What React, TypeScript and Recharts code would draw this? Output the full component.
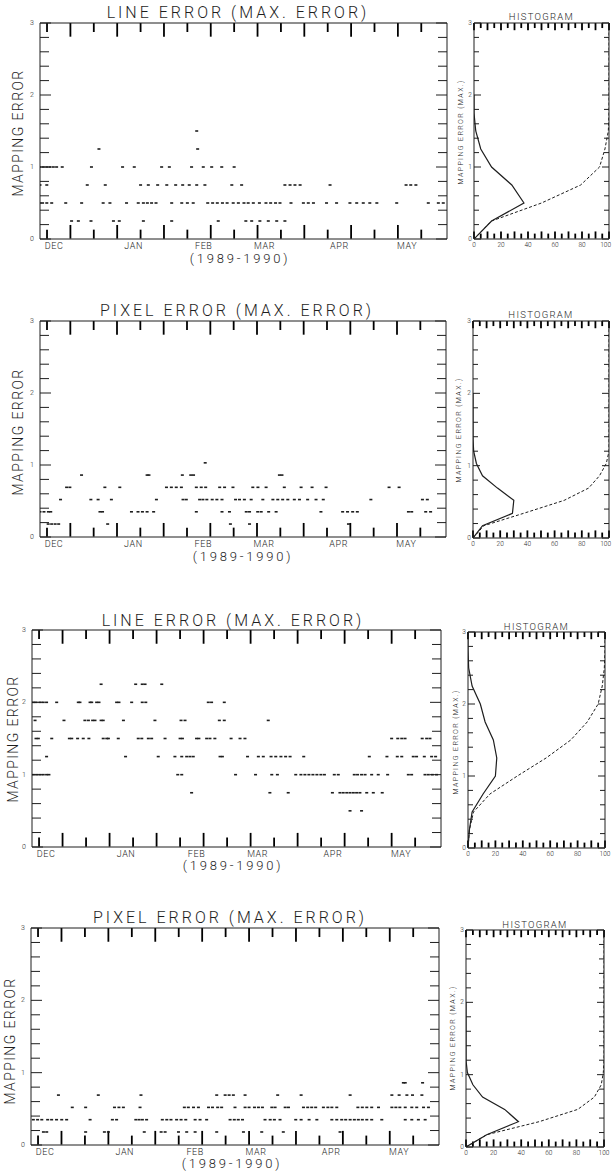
import React from 'react';
import { ScatterChart, Scatter, XAxis, YAxis, ReferenceLine } from 'recharts';

const FONT = 'Roboto, "DejaVu Sans", sans-serif';
const INK = '#1e1e1e';
const PAD = 20;

// x axis: days counted from the start of December 1989
const months = ['DEC', 'JAN', 'FEB', 'MAR', 'APR', 'MAY'];
const monthDays = [6, 40, 70, 96, 128, 157];
const dayTicks = [3, 13, 23, 33, 43, 53, 63, 73, 83, 93, 103, 113, 123, 133, 143, 153, 163];
const errTicks = [0, 0.2, 0.4, 0.6, 0.8, 1, 1.2, 1.4, 1.6, 1.8, 2, 2.2, 2.4, 2.6, 2.8, 3];
const pctTicks = [0, 5, 10, 15, 20, 25, 30, 35, 40, 45, 50, 55, 60, 65, 70, 75, 80, 85, 90, 95, 100];
const pctLabels = [0, 20, 40, 60, 80, 100];

// panel 1: line error, mapping error levels and the days they occur
const p1Levels = [0.25, 0.5, 0.75, 1.0, 1.25, 1.5];
const p1Days = [
  [13.5, 16.4, 21.8, 31.4, 33.9, 44.2, 56.3, 76.2, 88, 90.5, 94, 97.6, 101.2, 104.7],
  [0, 1.1, 2.9, 5, 11, 17.8, 27, 29.9, 37, 42, 44.2, 45.9, 47.7, 49.6, 56.3, 60.6, 63, 65.5, 71.7, 73.8, 75.8, 78, 80, 82.6, 84.8, 87.2, 89, 91.2, 93.8, 96.6, 98.6, 100.7, 102.6, 107.3, 112.6, 114.7, 116.9, 122.5, 126.8, 132.5, 135.4, 138.2, 141, 144, 152.5, 166, 170.3, 172.4],
  [0, 2.9, 20.2, 27.9, 43, 46.3, 50.3, 54.2, 58, 61, 63.8, 67, 70.5, 82, 86.2, 104.7, 106.9, 109, 111.2, 124, 156.5, 158.5, 160.7],
  [0, 1.4, 2.9, 4.3, 5.7, 7.1, 9.5, 22, 35.3, 40.3, 52, 55.3, 64.8, 69.8, 73.4, 77.7, 83],
  [25.2, 67.4],
  [67],
];

// panel 2: pixel error
const p2Levels = [0.18, 0.35, 0.52, 0.69, 0.86, 1.03];
const p2Days = [
  [3.5, 5, 6.5, 8, 29, 81.6, 89.8, 132.2],
  [0, 1.7, 3.6, 4.6, 25.7, 26.8, 39.2, 42, 43.9, 45.9, 48.7, 67, 78, 81.2, 88.4, 89.8, 93.3, 94.8, 98, 101.2, 120.4, 129.7, 131.8, 134, 136, 157.9, 159.3, 165.3, 167.4],
  [8.8, 21.8, 24.9, 30.6, 49.9, 61.3, 62.7, 68.4, 69.8, 71.5, 73.8, 75.8, 78, 83.8, 85.5, 87.6, 90.5, 95.5, 99.8, 101.9, 104, 106.2, 109, 111.2, 114.7, 118.3, 121.4, 141.8, 163.9, 166],
  [11.4, 12.8, 27.8, 34.2, 54.2, 56.3, 58.4, 60.6, 67, 69.1, 71, 77, 79.1, 82.7, 91.2, 93.4, 96.9, 104.7, 111.9, 116.6, 122.6, 149.6, 153.9],
  [17.8, 45.9, 46.7, 61, 64.6, 65.8, 102.6, 103.7],
  [70.8],
];

// panel 3: line error
const p3Levels = [0.5, 0.75, 1.0, 1.25, 1.5, 1.75, 2.0, 2.25];
const p3Days = [
  [135.3, 140.2],
  [67.9, 101.2, 109, 127.8, 131, 132.4, 133.9, 135.3, 136.7, 138.1, 139.5, 142.4, 145.2, 149],
  [0.6, 2, 3.4, 4.8, 6.2, 7.2, 62, 63.7, 86.6, 95.1, 102, 104.4, 112.2, 114.4, 116.1, 117.8, 119.5, 121.2, 122.9, 124.4, 128.6, 130.3, 137.1, 138.5, 140.2, 141.7, 144.5, 147.3, 151.3, 160.1, 161.5, 167.2, 168.6, 170.3, 172.1],
  [6.2, 39.8, 53.7, 60.8, 63.7, 65.8, 67.2, 68.6, 80, 81, 91.7, 96.3, 98.4, 101.7, 103.7, 105.9, 107.9, 109.8, 115.6, 143.5, 151, 155.4, 157.3, 162.2, 163.6, 166.9, 170, 171.7],
  [1.7, 2.7, 8.4, 15.9, 16.9, 19.4, 21.8, 24.2, 30.3, 31.8, 32.5, 36.7, 45.2, 46.7, 49.5, 50.9, 56.6, 63, 64, 70, 71, 74.3, 75.7, 77.8, 84.7, 88.5, 90.6, 153, 155.6, 157.3, 158.7, 166, 167.9, 169.3],
  [1.3, 13.6, 22.5, 24, 25.8, 26.8, 29.4, 30.3, 38.9, 52.3, 63.4, 65.1, 79.7, 81.8, 100.5],
  [0.6, 1.7, 3.4, 4.8, 6.2, 10.5, 19.7, 20.4, 24.7, 25.4, 27.5, 28.5, 36, 37, 42.4, 46.9, 48.4, 75, 76.4, 81.8],
  [29.4, 44.1, 46.9, 48.1, 55.2],
];

// panel 4: pixel error
const p4Levels = [0.18, 0.35, 0.52, 0.69, 0.86];
const p4Days = [
  [5.3, 6.7, 23.3, 31.3, 33, 48.3, 55.5, 57.2, 62.9, 66.4, 70, 79.2, 90.6, 98.4, 107.6, 131.8],
  [1, 2.8, 4.6, 7.1, 8.8, 10.9, 13.1, 15.2, 25.2, 34.7, 36.5, 44.7, 46.1, 47.5, 49.3, 56, 57.9, 59.7, 62.1, 64, 66, 70, 72.1, 74.9, 84.9, 86.7, 88.4, 90.2, 99.8, 102, 103.8, 106.2, 112.9, 115.2, 118.6, 121.9, 128.3, 130.4, 132.5, 134.2, 136.1, 137.9, 139.6, 141.3, 143.2, 145.3, 149.6, 159.6, 162.4, 165.2, 168.1],
  [17.6, 23.3, 35.6, 37.5, 39.4, 46.5, 65.4, 67.1, 69.3, 71.4, 75.7, 77.4, 79.6, 81.3, 87, 91.3, 93, 95.3, 97, 98.7, 102.7, 104.1, 108.4, 109.8, 116.2, 118, 119.7, 121.4, 124.7, 126.6, 128.3, 130.4, 139.4, 141.3, 143.2, 145.3, 148.2, 153.9, 155.6, 157.3, 159.6, 162.4, 164.5, 167.4, 169.5],
  [11.7, 28.7, 46.9, 79.2, 82.8, 84.5, 86.3, 91.3, 105.2, 115.2, 136.1, 153.9, 157, 160.3, 162.7, 166.7],
  [158.8, 159.6, 167],
];

// histograms: frequency (solid) and cumulative (dashed), percent per error level
const h1FreqErr = [0, 0.25, 0.5, 0.75, 1.0, 1.25, 1.5, 1.75, 2.0];
const h1Freq = [0, 13, 37, 28, 13, 5, 1.3, 0, 0];
const h1CumErr = [0, 0.25, 0.5, 0.75, 1.0, 1.25, 1.5, 1.75, 3.0];
const h1Cum = [0, 13, 50, 79, 93, 97, 99.5, 100, 100];

const h2FreqErr = [0, 0.17, 0.34, 0.52, 0.69, 0.86, 1.03, 1.2, 1.37, 2.0];
const h2Freq = [0, 7, 29, 30, 18, 7, 2.5, 0.5, 0, 0];
const h2CumErr = [0, 0.17, 0.34, 0.52, 0.69, 0.86, 1.03, 1.2, 3.0];
const h2Cum = [0, 8, 37, 67, 85, 93, 98, 100, 100];

const h3FreqErr = [0, 0.25, 0.5, 0.75, 1.0, 1.25, 1.5, 1.75, 2.0, 2.25, 2.5, 2.75, 3.0];
const h3Freq = [0, 1, 3, 11, 20, 21, 18.5, 12.5, 9, 3, 0.5, 0, 0];
const h3CumErr = [0, 0.25, 0.5, 0.75, 1.0, 1.25, 1.5, 1.75, 2.0, 2.25, 2.5, 2.75, 3.0];
const h3Cum = [0, 1, 4, 16, 36, 57, 75, 87, 95, 98, 99.5, 100, 100];

const h4FreqErr = [0, 0.17, 0.35, 0.52, 0.69, 0.86, 1.03, 1.2, 2.0];
const h4Freq = [0, 15, 38, 28, 12, 5, 1, 0, 0];
const h4CumErr = [0, 0.17, 0.35, 0.52, 0.69, 0.86, 1.03, 1.2, 3.0];
const h4Cum = [0, 15, 53, 81, 93, 98, 99.5, 100, 100];

type Box = { l: number; t: number; r: number; b: number };

const tickText = { fontFamily: FONT, fill: INK, fontWeight: 300 } as const;

const Dash = (p: any) => (
  <rect x={p.cx - 1.5} y={p.cy - 0.8} width={3} height={1.6} fill={INK} />
);
const NoDot = () => <g />;

const isInt = (v: number) => Math.abs(v - Math.round(v)) < 1e-6;

// tick length along the x edges, in error units (scale is 3 units over ~216 px)
const dayTickLen = (i: number) => (i % 2 === 1 ? 0.19 : 0.125);
const pctTickLen = (v: number) => (v % 10 === 0 ? 0.1 : 0.07);

function monthLabel(p: any) {
  const mi = monthDays.indexOf(p.payload.value);
  if (mi < 0) return <g />;
  return (
    <text x={p.x} y={p.y + 7} textAnchor="middle" dominantBaseline="central" fontSize={9} letterSpacing={0.6} {...tickText}>
      {months[mi]}
    </text>
  );
}

function pctLabel(edge: boolean) {
  return (p: any) => {
    const v = p.payload.value;
    if (!pctLabels.includes(v)) return <g />;
    const atEdge = edge && v === 100;
    return (
      <text x={atEdge ? p.x + 2 : p.x} y={p.y + 6} textAnchor={atEdge ? 'end' : 'middle'} dominantBaseline="central" fontSize={6.5} {...tickText}>
        {v}
      </text>
    );
  };
}

function errTick(left: boolean, len: number, labelGap: number, fs: number) {
  return (p: any) => {
    const v = p.payload.value;
    const x = Number(p.x);
    const y = Number(p.y);
    const dir = left ? 1 : -1;
    const l = isInt(v) ? len + 2 : len;
    return (
      <g>
        <path d={`M${x},${y}L${x + dir * l},${y}`} stroke={INK} strokeWidth={1} fill="none" />
        {left && isInt(v) && (
          <text x={x - labelGap} y={y} textAnchor="middle" dominantBaseline="central" fontSize={fs} {...tickText}>
            {v}
          </text>
        )}
      </g>
    );
  };
}

function chartSize(box: Box) {
  return { w: box.r - box.l + 2 * PAD, h: box.b - box.t + 2 * PAD };
}

const axisStroke = { stroke: INK, strokeWidth: 1 };

function edgeTicks(xs: number[], len: (v: number, i: number) => number) {
  return xs.flatMap((x, i) => [
    <ReferenceLine key={`b${i}`} xAxisId="b" yAxisId="l" ifOverflow="visible"
      segment={[{ x, y: len(x, i) + 0.005 }, { x, y: 0.005 }]} stroke="#000" strokeWidth={1.8} />,
    <ReferenceLine key={`t${i}`} xAxisId="b" yAxisId="l" ifOverflow="visible"
      segment={[{ x, y: 3 }, { x, y: 3 - len(x, i) }]} stroke="#000" strokeWidth={1.8} />,
  ]);
}

function TimePlot({ box, levels, days }: { box: Box; levels: number[]; days: number[][] }) {
  const pts = levels.flatMap((e, i) => days[i].map((d) => ({ d, e })));
  const { w, h } = chartSize(box);
  return (
    <div style={{ position: 'absolute', left: box.l - PAD, top: box.t - PAD }}>
      <ScatterChart width={w} height={h} margin={{ top: 0, right: 0, bottom: 0, left: 0 }}>
        <XAxis xAxisId="b" type="number" dataKey="d" domain={[0, 174]} allowDataOverflow
          ticks={monthDays} interval={0} tickSize={0} tickMargin={0} height={PAD}
          tickLine={false} axisLine={axisStroke} tick={monthLabel} />
        <XAxis xAxisId="t" orientation="top" type="number" dataKey="d" domain={[0, 174]} allowDataOverflow
          ticks={dayTicks} interval={0} tickSize={0} tickMargin={0} height={PAD}
          tickLine={false} axisLine={axisStroke} tick={false} />
        <YAxis yAxisId="l" type="number" dataKey="e" domain={[0, 3]} allowDataOverflow
          ticks={errTicks} interval={0} tickSize={0} tickMargin={0} width={PAD}
          tickLine={false} axisLine={axisStroke} tick={errTick(true, 9, 8, 7)} />
        <YAxis yAxisId="r" orientation="right" type="number" dataKey="e" domain={[0, 3]} allowDataOverflow
          ticks={errTicks} interval={0} tickSize={0} tickMargin={0} width={PAD}
          tickLine={false} axisLine={axisStroke} tick={errTick(false, 9, 8, 7)} />
        {edgeTicks(dayTicks, (_x, i) => dayTickLen(i))}
        <Scatter data={pts} xAxisId="b" yAxisId="l" shape={Dash} isAnimationActive={false} />
      </ScatterChart>
    </div>
  );
}

function HistPlot({ box, freqErr, freq, cumErr, cum }: {
  box: Box; freqErr: number[]; freq: number[]; cumErr: number[]; cum: number[];
}) {
  const freqPts = freqErr.map((e, i) => ({ p: freq[i], e }));
  const cumPts = cumErr.map((e, i) => ({ p: cum[i], e }));
  const { w, h } = chartSize(box);
  const edge = box.r > 606;
  return (
    <div style={{ position: 'absolute', left: box.l - PAD, top: box.t - PAD }}>
      <ScatterChart width={w} height={h} margin={{ top: 0, right: 0, bottom: 0, left: 0 }}>
        <XAxis xAxisId="b" type="number" dataKey="p" domain={[0, 100]} allowDataOverflow
          ticks={pctLabels} interval={0} tickSize={0} tickMargin={0} height={PAD}
          tickLine={false} axisLine={axisStroke} tick={pctLabel(edge)} />
        <XAxis xAxisId="t" orientation="top" type="number" dataKey="p" domain={[0, 100]} allowDataOverflow
          ticks={pctTicks} interval={0} tickSize={0} tickMargin={0} height={PAD}
          tickLine={false} axisLine={axisStroke} tick={false} />
        <YAxis yAxisId="l" type="number" dataKey="e" domain={[0, 3]} allowDataOverflow
          ticks={errTicks} interval={0} tickSize={0} tickMargin={0} width={PAD}
          tickLine={false} axisLine={axisStroke} tick={errTick(true, 5, 4, 6.5)} />
        <YAxis yAxisId="r" orientation="right" type="number" dataKey="e" domain={[0, 3]} allowDataOverflow
          ticks={errTicks} interval={0} tickSize={0} tickMargin={0} width={PAD}
          tickLine={false} axisLine={axisStroke} tick={errTick(false, 5, 4, 6.5)} />
        {edgeTicks(pctTicks, (x) => pctTickLen(x))}
        <Scatter data={cumPts} xAxisId="b" yAxisId="l" shape={NoDot} isAnimationActive={false}
          line={{ stroke: INK, strokeWidth: 1, strokeDasharray: '3 2' }} />
        <Scatter data={freqPts} xAxisId="b" yAxisId="l" shape={NoDot} isAnimationActive={false}
          line={{ stroke: INK, strokeWidth: 1.2 }} />
      </ScatterChart>
    </div>
  );
}

function Txt({ x, y, size, ls = 0, rot = false, children }: {
  x: number; y: number; size: number; ls?: number; rot?: boolean; children: React.ReactNode;
}) {
  return (
    <div style={{
      position: 'absolute', left: x, top: y, whiteSpace: 'nowrap', lineHeight: 1,
      transform: `translate(-50%, -50%)${rot ? ' rotate(-90deg)' : ''}`,
      fontFamily: FONT, fontWeight: 300, fontSize: size, letterSpacing: ls, color: INK,
    }}>
      {children}
    </div>
  );
}

const panels = [
  {
    title: 'LINE ERROR (MAX. ERROR)', titleAt: [238, 13], yearAt: [240, 258], yLabelAt: [18, 133],
    box: { l: 40, t: 23, r: 447, b: 239 }, levels: p1Levels, days: p1Days,
    hbox: { l: 474, t: 23, r: 609, b: 239 }, hTitleY: 17, hLabelAt: [461, 132],
    freqErr: h1FreqErr, freq: h1Freq, cumErr: h1CumErr, cum: h1Cum,
  },
  {
    title: 'PIXEL ERROR (MAX. ERROR)', titleAt: [237, 311], yearAt: [243, 556], yLabelAt: [18, 432],
    box: { l: 40, t: 321, r: 446, b: 537 }, levels: p2Levels, days: p2Days,
    hbox: { l: 473, t: 321, r: 609, b: 538 }, hTitleY: 315, hLabelAt: [459, 430],
    freqErr: h2FreqErr, freq: h2Freq, cumErr: h2CumErr, cum: h2Cum,
  },
  {
    title: 'LINE ERROR (MAX. ERROR)', titleAt: [233, 621], yearAt: [233, 865], yLabelAt: [13, 739],
    box: { l: 32, t: 630, r: 441, b: 847 }, levels: p3Levels, days: p3Days,
    hbox: { l: 468, t: 632, r: 605, b: 848 }, hTitleY: 627, hLabelAt: [456, 742],
    freqErr: h3FreqErr, freq: h3Freq, cumErr: h3CumErr, cum: h3Cum,
  },
  {
    title: 'PIXEL ERROR (MAX. ERROR)', titleAt: [230, 918], yearAt: [232, 1163], yLabelAt: [10, 1041],
    box: { l: 31, t: 928, r: 439, b: 1145 }, levels: p4Levels, days: p4Days,
    hbox: { l: 466, t: 930, r: 604, b: 1147 }, hTitleY: 925, hLabelAt: [453, 1038],
    freqErr: h4FreqErr, freq: h4Freq, cumErr: h4CumErr, cum: h4Cum,
  },
];

export default function App() {
  return (
    <div style={{ position: 'absolute', left: 0, top: 0, width: 612, height: 1174, background: '#fff', overflow: 'hidden' }}>
      {panels.map((pn, i) => (
        <React.Fragment key={i}>
          <Txt x={pn.titleAt[0]} y={pn.titleAt[1]} size={16} ls={3}>{pn.title}</Txt>
          <Txt x={pn.yearAt[0]} y={pn.yearAt[1]} size={13} ls={2.8}>(1989-1990)</Txt>
          <Txt x={pn.yLabelAt[0]} y={pn.yLabelAt[1]} size={14} ls={1.4} rot>MAPPING ERROR</Txt>
          <TimePlot box={pn.box} levels={pn.levels} days={pn.days} />
          <Txt x={(pn.hbox.l + pn.hbox.r) / 2} y={pn.hTitleY} size={9.5} ls={1.3}>HISTOGRAM</Txt>
          <Txt x={pn.hLabelAt[0]} y={pn.hLabelAt[1]} size={7} ls={1.4} rot>MAPPING ERROR (MAX.)</Txt>
          <HistPlot box={pn.hbox} freqErr={pn.freqErr} freq={pn.freq} cumErr={pn.cumErr} cum={pn.cum} />
        </React.Fragment>
      ))}
    </div>
  );
}
